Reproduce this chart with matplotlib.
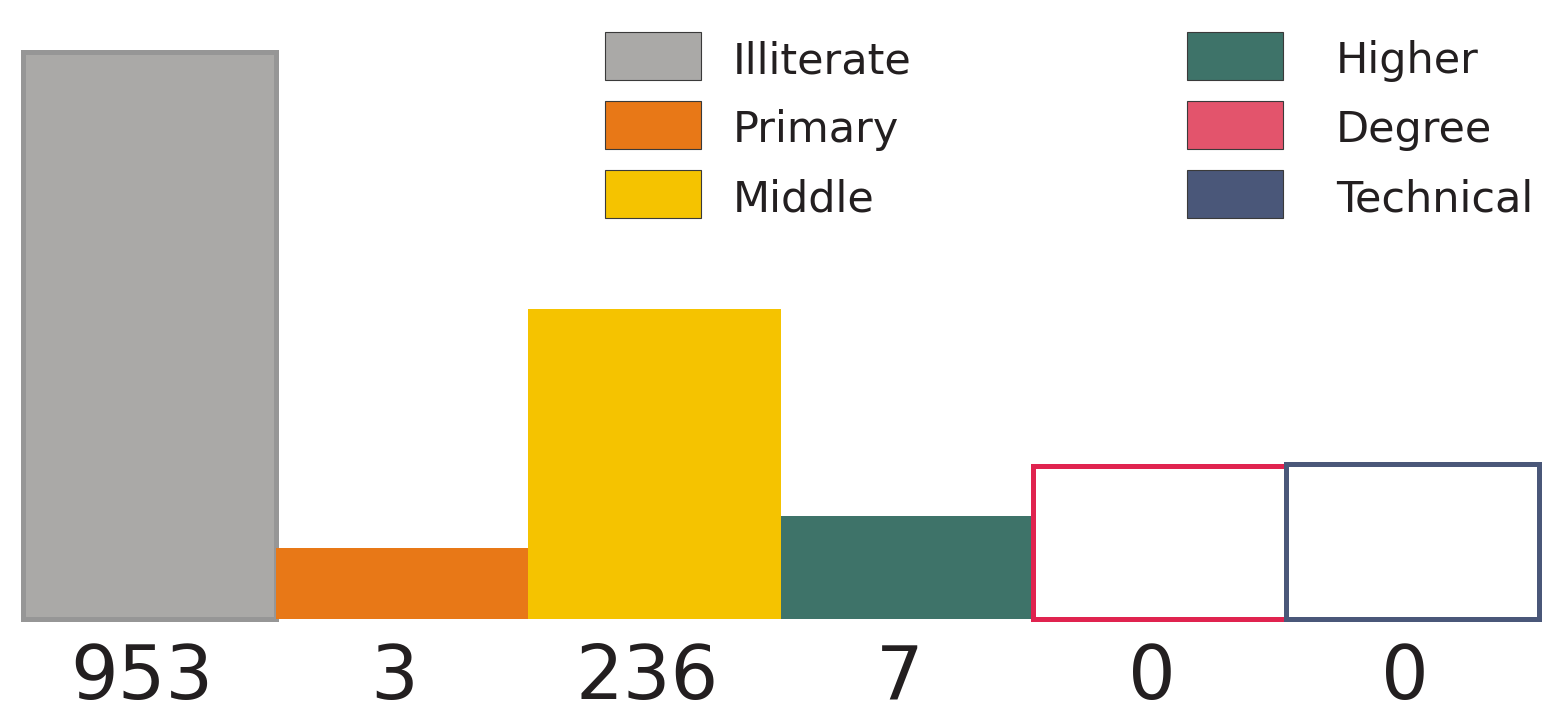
import matplotlib
matplotlib.use("Agg")
import matplotlib.pyplot as plt
from matplotlib.patches import Rectangle

# Data
categories = ["Illiterate", "Primary", "Middle", "Higher", "Degree", "Technical"]
counts = [953, 3, 236, 7, 0, 0]
# visual bar heights as drawn in the reference (arbitrary units)
bar_heights = [567, 71, 310, 103, 153, 155]

fills = ["#aaa9a7", "#e87817", "#f5c300", "#3e7369", "none", "none"]
edges = ["#969696", "none", "none", "none", "#e0234f", "#4a5779"]
legend_colors = ["#aaa9a7", "#e87817", "#f5c300", "#3e7369", "#e3546c", "#4a5779"]

W, H = 1544, 717
fig = plt.figure(figsize=(W / 100, H / 100), dpi=100)
ax = fig.add_axes([0, 0, 1, 1])
ax.set_axis_off()

unit = 252.6
x0 = -0.5 - 23 / unit
ax.set_xlim(x0, x0 + W / unit)
ax.set_ylim(-98, 619)

for i, (h, fc, ec) in enumerate(zip(bar_heights, fills, edges)):
    lw = 3.6 if ec != "none" else 0
    ax.bar(i, h, width=1.0, color=fc if fc != "none" else "none",
           edgecolor=ec, linewidth=lw, zorder=2 if fc == "none" else 1)

txt_color = "#231f20"
for i, c in enumerate(counts):
    ax.text(i - 0.03, -60, str(c), ha="center", va="center", fontsize=54,
            color=txt_color, family="DejaVu Sans")

# Legend (manual, in pixel coordinates from top-left)
def px(x, y):
    return x / W, 1 - y / H

col_handle_x = [605, 1187]
col_text_x = [733, 1336]
row_top = [32, 101, 170]
hw, hh = 96, 48
for k, name in enumerate(categories):
    col = k // 3
    row = k % 3
    hx = col_handle_x[col]
    ty = row_top[row]
    fx, fy = px(hx, ty + hh)
    fig.patches.append(Rectangle((fx, fy), hw / W, hh / H, transform=fig.transFigure,
                                 facecolor=legend_colors[k], edgecolor="#3a3a3a",
                                 linewidth=0.8))
    tx, tyy = px(col_text_x[col], ty + hh / 2 + 5)
    fig.text(tx, tyy, name, ha="left", va="center", fontsize=31,
             color=txt_color, family="DejaVu Sans")

fig.savefig("out.png", dpi=100)
